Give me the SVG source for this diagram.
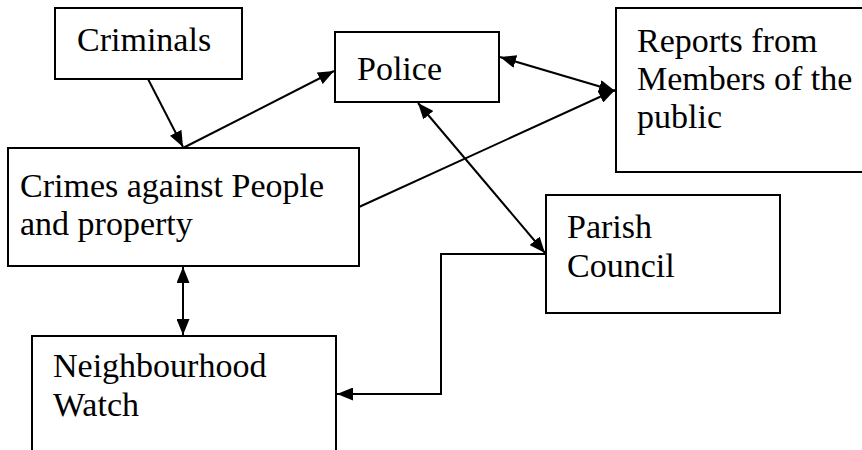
<svg xmlns="http://www.w3.org/2000/svg" width="862" height="450" viewBox="0 0 862 450">
<style>
.box{fill:#fff;stroke:#000;stroke-width:2}
.t{font-family:'Liberation Serif','Times New Roman',serif;font-size:34px;fill:#000}
.c{fill:none;stroke:#000;stroke-width:2}
</style>
<defs>
<marker id="ah" viewBox="0 0 16 13" refX="16" refY="6.5" markerWidth="16" markerHeight="13" markerUnits="userSpaceOnUse" orient="auto-start-reverse">
<path d="M0,0 L16,6.5 L0,13 Z" fill="#000"/>
</marker>
</defs>
<rect width="862" height="450" fill="#fff"/>
<g id="criminals"><rect class="box" x="55" y="8" width="187" height="71"/><text class="t" x="77" y="51">Criminals</text></g>
<g id="police"><rect class="box" x="335" y="32" width="164" height="70"/><text class="t" x="357" y="80">Police</text></g>
<g id="reports"><rect class="box" x="616" y="8" width="260" height="164"/><text class="t" x="637" y="52">Reports from</text><text class="t" x="637" y="90">Members of the</text><text class="t" x="637" y="128">public</text></g>
<g id="crimes"><rect class="box" x="8" y="148" width="351" height="118"/><text class="t" x="20" y="197">Crimes against People</text><text class="t" x="20" y="235">and property</text></g>
<g id="parish"><rect class="box" x="546" y="195" width="234" height="118"/><text class="t" x="567" y="238">Parish</text><text class="t" x="567" y="277">Council</text></g>
<g id="neighbourhood"><rect class="box" x="32" y="336" width="304" height="130"/><text class="t" x="53" y="377">Neighbourhood</text><text class="t" x="53" y="416">Watch</text></g>
<g id="connectors">
<line class="c" x1="148" y1="79" x2="183" y2="147" marker-end="url(#ah)"/>
<line class="c" x1="183" y1="148" x2="334" y2="71" marker-end="url(#ah)"/>
<line class="c" x1="500" y1="57" x2="615" y2="91" marker-start="url(#ah)" marker-end="url(#ah)"/>
<line class="c" x1="359" y1="207" x2="615" y2="90" marker-end="url(#ah)"/>
<line class="c" x1="418" y1="103" x2="545" y2="253" marker-start="url(#ah)" marker-end="url(#ah)"/>
<line class="c" x1="183" y1="267" x2="183" y2="335" marker-start="url(#ah)" marker-end="url(#ah)"/>
<polyline class="c" points="546,254 441,254 441,394 337,394" marker-end="url(#ah)"/>
</g>
</svg>
